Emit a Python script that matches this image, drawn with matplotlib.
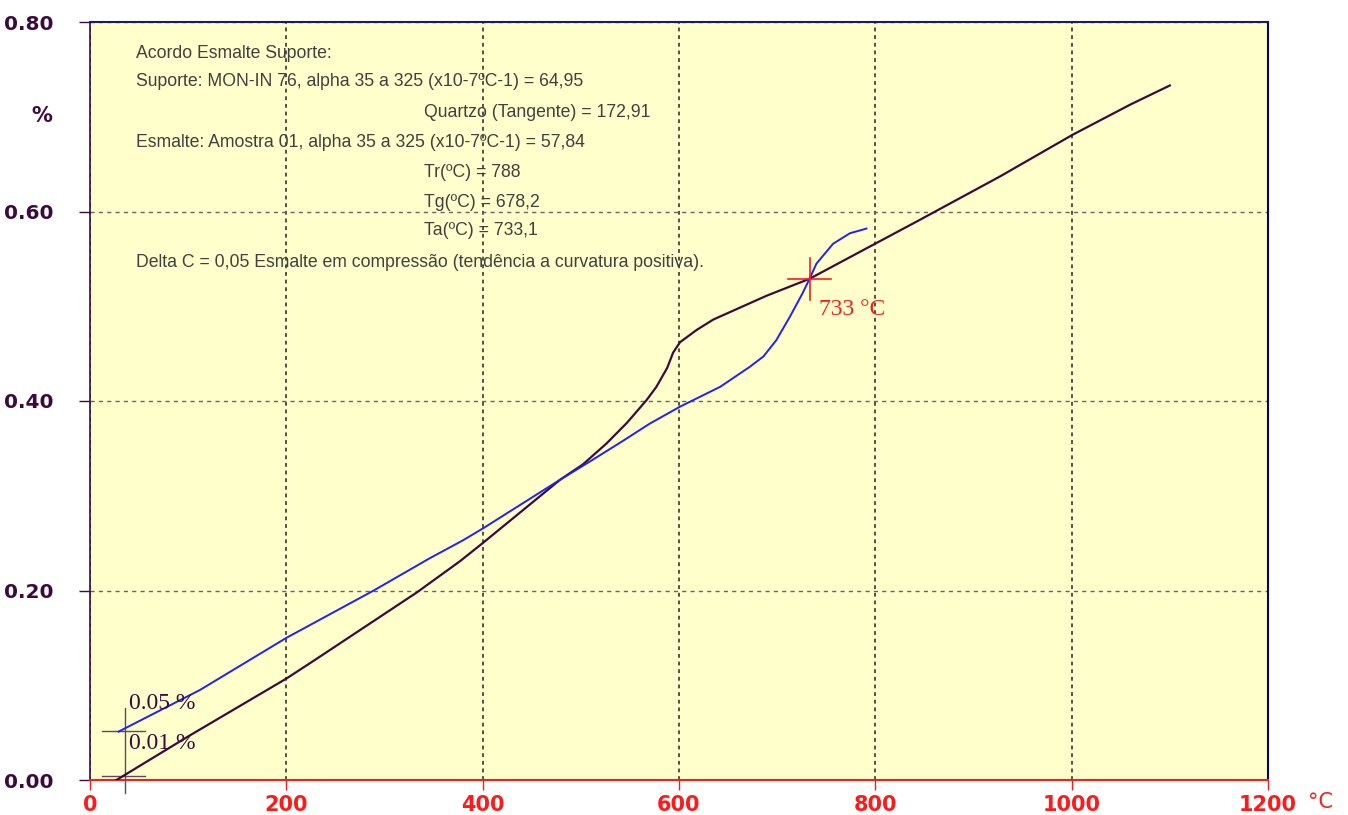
import matplotlib
matplotlib.use('Agg')
import matplotlib.pyplot as plt

# support curve (purple)
sup_t = [27, 100, 200, 231, 333, 377, 400, 479, 502, 526, 547, 567, 577, 588,
         594, 601, 618, 635, 689, 733, 798, 845, 927, 1001, 1060, 1100]
sup_d = [0.0, 0.046, 0.107, 0.128, 0.198, 0.231, 0.250, 0.317, 0.333, 0.355,
         0.377, 0.401, 0.415, 0.435, 0.451, 0.462, 0.475, 0.486, 0.511, 0.529,
         0.565, 0.591, 0.637, 0.681, 0.713, 0.733]

# enamel curve (blue)
esm_t = [29, 112, 200, 289, 346, 380, 401, 479, 509, 543, 570, 601, 642, 672,
         686, 699, 713, 726, 733, 740, 757, 774, 791]
esm_d = [0.051, 0.095, 0.150, 0.200, 0.234, 0.253, 0.266, 0.317, 0.336, 0.358,
         0.376, 0.394, 0.415, 0.436, 0.447, 0.464, 0.489, 0.514, 0.529, 0.545,
         0.566, 0.577, 0.582]

x_ticks = [0, 200, 400, 600, 800, 1000, 1200]
y_ticks = [0.0, 0.2, 0.4, 0.6, 0.8]

info_lines = [
    (47, 'Acordo Esmalte Suporte:'),
    (47, 'Suporte: MON-IN 76, alpha 35 a 325 (x10-7ºC-1) = 64,95'),
    (340, 'Quartzo (Tangente) = 172,91'),
    (47, 'Esmalte: Amostra 01, alpha 35 a 325 (x10-7ºC-1) = 57,84'),
    (340, 'Tr(ºC) = 788'),
    (340, 'Tg(ºC) = 678,2'),
    (340, 'Ta(ºC) = 733,1'),
    (47, 'Delta C = 0,05 Esmalte em compressão (tendência a curvatura positiva).'),
]
info_y = [0.767, 0.737, 0.705, 0.673, 0.641, 0.609, 0.580, 0.546]

cross_t, cross_d = 733, 0.529

purple = '#3d0a3d'
blue = '#1f1fff'
red = '#ff1a1a'
serif = ['Liberation Serif', 'DejaVu Serif']

fig = plt.figure(figsize=(13.48, 8.15), dpi=100)
ax = fig.add_axes([90 / 1348, 35 / 815, 1178 / 1348, 758 / 815])
ax.set_facecolor('#ffffcc')

ax.plot(sup_t, sup_d, color=purple, lw=1.6, zorder=3)
ax.plot(esm_t, esm_d, color=blue, lw=1.4, zorder=4)

# start markers
mk = '#5a4a5a'
ax.plot([36, 36], [-0.014, 0.076], color=mk, lw=1, clip_on=False, zorder=2)
ax.plot([12, 56], [0.052, 0.052], color=mk, lw=1, zorder=2)
ax.plot([12, 56], [0.004, 0.004], color=mk, lw=1, zorder=2)
ax.text(40, 0.081, '0.05 %', family=serif, fontsize=17, color=purple,
        va='center', ha='left', zorder=5)
ax.text(40, 0.038, '0.01 %', family=serif, fontsize=17, color=purple,
        va='center', ha='left', zorder=5)

# intersection cross
ax.plot([cross_t - 22, cross_t + 22], [cross_d, cross_d], color=red, lw=1.2, zorder=5)
ax.plot([cross_t, cross_t], [cross_d - 0.022, cross_d + 0.022], color=red, lw=1.2, zorder=5)
ax.text(cross_t + 10, cross_d - 0.032, '%d °C' % cross_t, family=serif,
        fontsize=17, color=red, va='center', ha='left', zorder=5)

for (xpos, txt), yy in zip(info_lines, info_y):
    ax.text(xpos, yy, txt, family='Liberation Sans', fontsize=12.7,
            color='#404040', va='center', ha='left')

ax.set_xlim(0, 1200)
ax.set_ylim(0, 0.8)
ax.set_xticks(x_ticks)
ax.set_yticks(y_ticks)
ax.set_xticklabels([str(v) for v in x_ticks], family='DejaVu Sans',
                   fontweight='bold')
ax.set_yticklabels(['%.2f' % v for v in y_ticks], family='DejaVu Sans',
                   fontweight='bold')

ax.xaxis.grid(True, color='#222222', linestyle=(0, (2.5, 2.5)), lw=1.1)
ax.yaxis.grid(True, color='#666666', linestyle=(0, (3, 3)), lw=1)
ax.set_axisbelow(True)

ax.tick_params(axis='x', colors=red, direction='out', length=7, width=1,
               labelsize=15, pad=4)
ax.tick_params(axis='y', colors=purple, direction='out', length=8, width=1,
               labelsize=14.5, pad=18)

ax.spines['bottom'].set_color(red)
ax.spines['bottom'].set_linewidth(1.5)
ax.spines['left'].set_color(purple)
ax.spines['left'].set_linewidth(1.2)
ax.spines['top'].set_color('#1c1c5c')
ax.spines['top'].set_linewidth(1.5)
ax.spines['right'].set_color('#000080')
ax.spines['right'].set_linewidth(1.5)

fig.text(42 / 1348, 1 - 116 / 815, '%', color=purple, fontsize=15,
         fontweight='bold', ha='center', va='center')
fig.text(1320 / 1348, 1 - 802 / 815, '°C', color=red, fontsize=15,
         ha='center', va='center')

fig.savefig('out.png', dpi=100, facecolor='white')
